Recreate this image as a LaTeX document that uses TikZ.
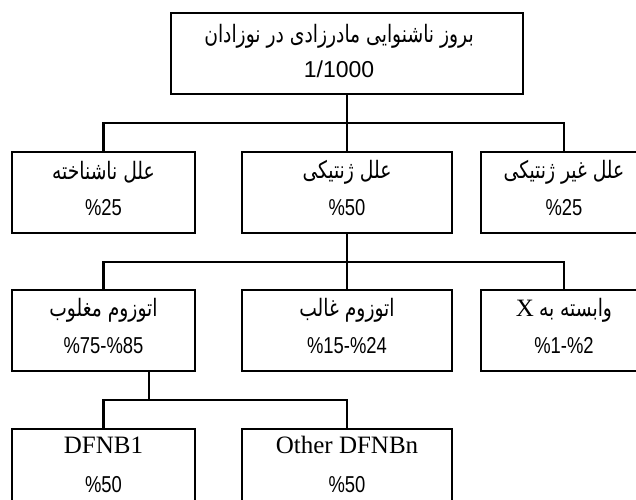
\documentclass[tikz,border=0pt]{standalone}
\usepackage{fontspec}
\usepackage{graphicx}
\TeXXeTstate=1
\newfontfamily\fa[Script=Arabic]{DejaVu Sans}
\newfontfamily\numf{Liberation Sans}
\newfontfamily\serf{Liberation Serif}
\newcommand\pnum[1]{{\fontsize{23pt}{23pt}\selectfont\scalebox{0.8}[1]{\numf #1}}}
\newcommand\ptxt[1]{{\fontsize{24pt}{24pt}\selectfont\scalebox{0.78}[1]{\fa\beginR #1\endR}}}
\newcommand\ltxt[1]{{\fontsize{25pt}{25pt}\selectfont\serf #1}}
\begin{document}
\begin{tikzpicture}[x=1pt,y=-1pt,
  box/.style={draw, line width=2.2pt, minimum height=81pt, inner sep=0pt},
  wl/.style={box, minimum width=183pt},
  wm/.style={box, minimum width=210pt},
  wr/.style={box, minimum width=166pt},
  lineone/.style={anchor=center, inner sep=0pt, yshift=-21pt},
  linetwo/.style={anchor=center, inner sep=0pt, yshift=-57pt},
  conn/.style={line width=2.2pt}]
\useasboundingbox (0,0) rectangle (636,499);
\clip (0,0) rectangle (636,499);
\fill[white] (0,0) rectangle (636,499);
% boxes
\node[box, minimum width=352pt] (top) at (347,53.5) {};
\node[wl] (a2) at (103.5,192.5) {};
\node[wm] (b2) at (347,192.5) {};
\node[wr] (c2) at (564,192.5) {};
\node[wl] (a3) at (103.5,330.5) {};
\node[wm] (b3) at (347,330.5) {};
\node[wr] (c3) at (564,330.5) {};
\node[wl] (a4) at (103.5,469.5) {};
\node[wm] (b4) at (347,469.5) {};
% texts
\node[lineone, yshift=-3pt] (topA) at ([xshift=-8pt]top.north) {\ptxt{بروز ناشنوایی مادرزادی در نوزادان}};
\node[linetwo] (topB) at ([xshift=-8pt]top.north) {{\fontsize{23pt}{23pt}\selectfont\numf 1/1000}};
\node[lineone] (a2A) at (a2.north) {\ptxt{علل ناشناخته}};
\node[linetwo] (a2B) at (a2.north) {\pnum{\%25}};
\node[lineone] (b2A) at (b2.north) {\ptxt{علل ژنتیکی}};
\node[linetwo] (b2B) at (b2.north) {\pnum{\%50}};
\node[lineone] (c2A) at (c2.north) {\ptxt{علل غیر ژنتیکی}};
\node[linetwo] (c2B) at (c2.north) {\pnum{\%25}};
\node[lineone] (a3A) at (a3.north) {\ptxt{اتوزوم مغلوب}};
\node[linetwo] (a3B) at (a3.north) {\pnum{\%75-\%85}};
\node[lineone] (b3A) at (b3.north) {\ptxt{اتوزوم غالب}};
\node[linetwo] (b3B) at (b3.north) {\pnum{\%15-\%24}};
\node[lineone] (c3A) at (c3.north) {\ltxt{X}\hspace{5pt}\ptxt{وابسته به}};
\node[linetwo] (c3B) at (c3.north) {\pnum{\%1-\%2}};
\node[lineone, yshift=4pt] (a4A) at (a4.north) {\ltxt{DFNB1}};
\node[linetwo] (a4B) at (a4.north) {\pnum{\%50}};
\node[lineone, yshift=4pt] (b4A) at (b4.north) {\ltxt{Other DFNBn}};
\node[linetwo] (b4B) at (b4.north) {\pnum{\%50}};
% connectors
\coordinate (j1) at (347,123);
\coordinate (j2) at (347,262);
\coordinate (j3) at (149,400);
\draw[conn] (top.south) -- (b2.north);
\draw[conn] (a2.north) |- (j1) -| (c2.north);
\draw[conn] (b2.south) -- (b3.north);
\draw[conn] (a3.north) |- (j2) -| (c3.north);
\draw[conn] (a3.south -| j3) -- (j3);
\draw[conn] (a4.north) |- (j3) -| (b4.north);
\end{tikzpicture}
\end{document}
